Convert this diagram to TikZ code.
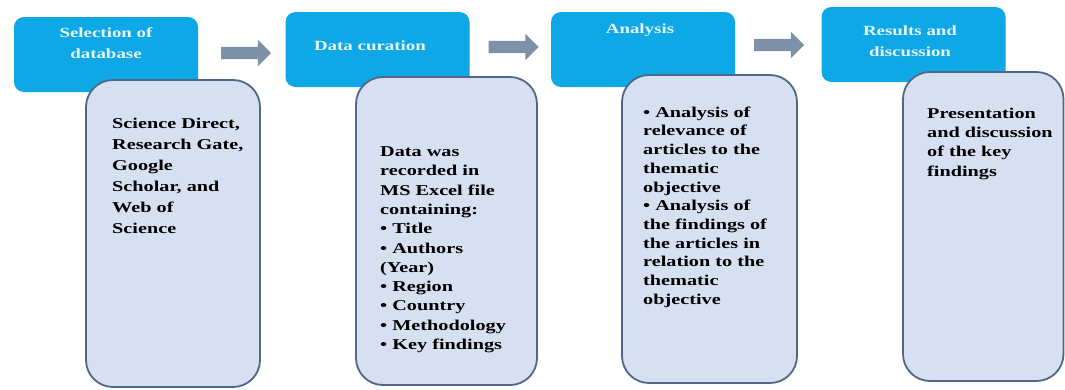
\documentclass[tikz,border=0pt]{standalone}
\usepackage{fontspec}
\newfontfamily\cf{Liberation Serif}[FakeStretch=1.35]
\usetikzlibrary{shapes.arrows}
\definecolor{boxblue}{RGB}{14,168,230}
\definecolor{cardfill}{RGB}{215,224,240}
\definecolor{cardline}{RGB}{80,104,135}
\definecolor{arrowgrey}{RGB}{125,145,168}
\definecolor{titletext}{RGB}{232,246,251}
\begin{document}
\begin{tikzpicture}[x=1pt,y=-1pt,
  stagebox/.style={fill=boxblue, rounded corners=10pt, minimum width=184pt, minimum height=75pt, inner sep=0pt},
  card/.style={fill=cardfill, draw=cardline, line width=1.8pt, rounded corners=27pt, inner sep=0pt},
  titletxt/.style={text=titletext, font=\cf\bfseries\fontsize{14}{21}\selectfont, align=center, inner sep=0pt, anchor=north},
  cardtxt/.style={text=black, font=\cf\bfseries\fontsize{15}{19.3}\selectfont, align=left, inner sep=0pt, anchor=north west},
  flowarrow/.style={single arrow, fill=arrowgrey, inner sep=6pt, single arrow head extend=7pt, minimum height=50pt}
]
\fill[white] (0,0) rectangle (1065,389);
\path[use as bounding box] (0,0) rectangle (1065,389);

% stage boxes
\node[stagebox] (b1) at (106,54.5) {};
\node[stagebox] (b2) at (377.5,49.5) {};
\node[stagebox] (b3) at (643,49.5) {};
\node[stagebox] (b4) at (913.5,44.5) {};

% titles
\node[titletxt] (tt1) at (106,27) {Selection of\\database};
\node[titletxt] (tt2) at (370,41) {Data curation};
\node[titletxt] (tt3) at (640,24) {Analysis};
\node[titletxt] (tt4) at (910,26) {Results and\\discussion};

% arrows
\node[flowarrow] (a1) at (243,53) {};
\node[flowarrow] (a2) at (510.5,47) {};
\node[flowarrow] (a3) at (776,45) {};

% cards
\node[card, minimum width=174pt, minimum height=307pt] (c1) at (173,233.5) {};
\node[card, minimum width=181pt, minimum height=308pt] (c2) at (446.5,231) {};
\node[card, minimum width=175pt, minimum height=308pt] (c3) at (709.5,229) {};
\node[card, minimum width=160.5pt, minimum height=309pt] (c4) at (983.25,226.5) {};

% card texts
\node[cardtxt, font=\cf\bfseries\fontsize{15}{21}\selectfont] (ct1) at (112,117.5)
  {Science Direct,\\Research Gate,\\Google\\Scholar, and\\Web of\\Science};
\node[cardtxt] (ct2) at (380,146.5)
  {Data was\\recorded in\\MS Excel file\\containing:\\• Title\\• Authors\\(Year)\\• Region\\• Country\\• Methodology\\• Key findings};
\node[cardtxt, font=\cf\bfseries\fontsize{15}{18.7}\selectfont] (ct3) at (643,106.5)
  {• Analysis of\\relevance of\\articles to the\\thematic\\objective\\• Analysis of\\the findings of\\the articles in\\relation to the\\thematic\\objective};
\node[cardtxt, font=\cf\bfseries\fontsize{15}{19.4}\selectfont] (ct4) at (927,107.5)
  {Presentation\\and discussion\\of the key\\findings};
\end{tikzpicture}
\end{document}
